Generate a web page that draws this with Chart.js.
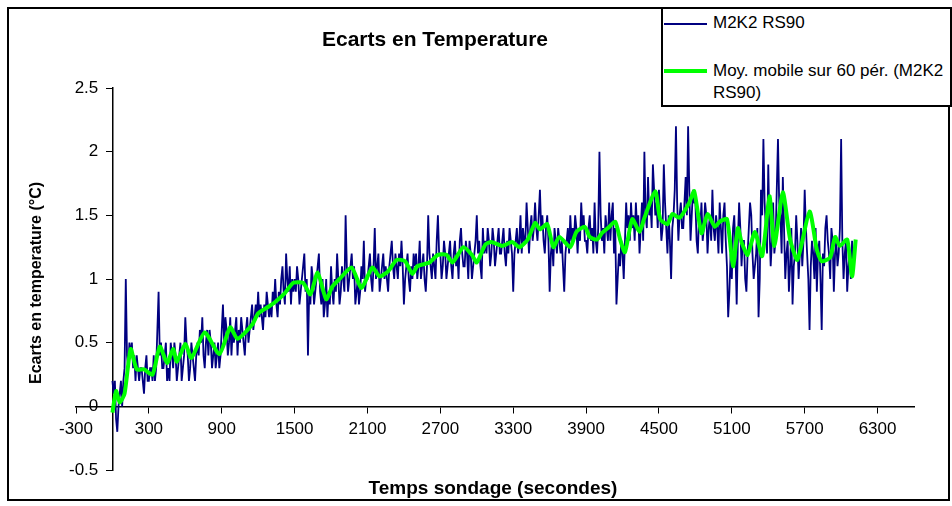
<!DOCTYPE html>
<html>
<head>
<meta charset="utf-8">
<title>Ecarts en Temperature</title>
<script src="https://cdn.jsdelivr.net/npm/chart.js@4.4.1/dist/chart.umd.min.js"></script>
<style>
  body { margin: 0; background: #fff; }
  #wrap { position: relative; width: 952px; height: 506px; font-family: Arial, "Liberation Sans", sans-serif; color: #000; }
  #frame { position: absolute; left: 7px; top: 7px; width: 939px; height: 490px; border: 2px solid #000; }
  canvas { position: absolute; left: 0; top: 0; }
  .lbl { position: absolute; white-space: nowrap; font-weight: bold; transform: translate(-50%, -50%); }
  #legend { position: absolute; left: 661px; top: 7px; width: 287px; height: 96px; border: 2px solid #000; background: #fff; font-size: 17px; }
  #legend .sw { position: absolute; left: 1px; width: 43px; }
  #legend .tx { position: absolute; left: 50px; width: 236px; line-height: 22px; }
</style>
</head>
<body>
<div id="wrap">
  <div id="frame"></div>
  <canvas id="chart" width="952" height="506"></canvas>
  <div class="lbl" style="left:435px; top:39px; font-size:21px;">Ecarts en Temperature</div>
  <div class="lbl" style="left:36px; top:283px; font-size:16px; transform: translate(-50%, -50%) rotate(-90deg);">Ecarts en temperature (°C)</div>
  <div class="lbl" style="left:493px; top:488px; font-size:19px;">Temps sondage (secondes)</div>
  <div id="legend">
    <div class="sw" style="top:14px; height:1.5px; background:#000080;"></div>
    <div class="tx" style="top:3px;">M2K2 RS90</div>
    <div class="sw" style="top:60px; height:4px; background:#00ff00;"></div>
    <div class="tx" style="top:51px;">Moy. mobile sur 60 pér. (M2K2 RS90)</div>
  </div>
</div>
<script>
"use strict";

// sampling times of the raw series (s)
const RAW_T = [
  0, 10, 20, 30, 40, 50, 60, 70, 80, 90,
  100, 110, 120, 130, 140, 150, 160, 170, 180, 190,
  200, 210, 220, 230, 240, 250, 260, 270, 280, 290,
  300, 310, 320, 330, 340, 350, 360, 370, 380, 390,
  400, 410, 420, 430, 440, 450, 460, 470, 480, 490,
  500, 510, 520, 530, 540, 550, 560, 570, 580, 590,
  600, 610, 620, 630, 640, 650, 660, 670, 680, 690,
  700, 710, 720, 730, 740, 750, 760, 770, 780, 790,
  800, 810, 820, 830, 840, 850, 860, 870, 880, 890,
  900, 910, 920, 930, 940, 950, 960, 970, 980, 990,
  1000, 1010, 1020, 1030, 1040, 1050, 1060, 1070, 1080, 1090,
  1100, 1110, 1120, 1130, 1140, 1150, 1160, 1170, 1180, 1190,
  1200, 1210, 1220, 1230, 1240, 1250, 1260, 1270, 1280, 1290,
  1300, 1310, 1320, 1330, 1340, 1350, 1360, 1370, 1380, 1390,
  1400, 1410, 1420, 1430, 1440, 1450, 1460, 1470, 1480, 1490,
  1500, 1510, 1520, 1530, 1540, 1550, 1560, 1570, 1580, 1590,
  1600, 1610, 1620, 1630, 1640, 1650, 1660, 1670, 1680, 1690,
  1700, 1710, 1720, 1730, 1740, 1750, 1760, 1770, 1780, 1790,
  1800, 1810, 1820, 1830, 1840, 1850, 1860, 1870, 1880, 1890,
  1900, 1910, 1920, 1930, 1940, 1950, 1960, 1970, 1980, 1990,
  2000, 2010, 2020, 2030, 2040, 2050, 2060, 2070, 2080, 2090,
  2100, 2110, 2120, 2130, 2140, 2150, 2160, 2170, 2180, 2190,
  2200, 2210, 2220, 2230, 2240, 2250, 2260, 2270, 2280, 2290,
  2300, 2310, 2320, 2330, 2340, 2350, 2360, 2370, 2380, 2390,
  2400, 2410, 2420, 2430, 2440, 2450, 2460, 2470, 2480, 2490,
  2500, 2510, 2520, 2530, 2540, 2550, 2560, 2570, 2580, 2590,
  2600, 2610, 2620, 2630, 2640, 2650, 2660, 2670, 2680, 2690,
  2700, 2710, 2720, 2730, 2740, 2750, 2760, 2770, 2780, 2790,
  2800, 2810, 2820, 2830, 2840, 2850, 2860, 2870, 2880, 2890,
  2900, 2910, 2920, 2930, 2940, 2950, 2960, 2970, 2980, 2990,
  3000, 3010, 3020, 3030, 3040, 3050, 3060, 3070, 3080, 3090,
  3100, 3110, 3120, 3130, 3140, 3150, 3160, 3170, 3180, 3190,
  3200, 3210, 3220, 3230, 3240, 3250, 3260, 3270, 3280, 3290,
  3300, 3310, 3320, 3330, 3340, 3350, 3360, 3370, 3380, 3390,
  3400, 3410, 3420, 3430, 3440, 3450, 3460, 3470, 3480, 3490,
  3500, 3510, 3520, 3530, 3540, 3550, 3560, 3570, 3580, 3590,
  3600, 3610, 3620, 3630, 3640, 3650, 3660, 3670, 3680, 3690,
  3700, 3710, 3720, 3730, 3740, 3750, 3760, 3770, 3780, 3790,
  3800, 3810, 3820, 3830, 3840, 3850, 3860, 3870, 3880, 3890,
  3900, 3910, 3920, 3930, 3940, 3950, 3960, 3970, 3980, 3990,
  4000, 4010, 4020, 4030, 4040, 4050, 4060, 4070, 4080, 4090,
  4100, 4110, 4120, 4130, 4140, 4150, 4160, 4170, 4180, 4190,
  4200, 4210, 4220, 4230, 4240, 4250, 4260, 4270, 4280, 4290,
  4300, 4310, 4320, 4330, 4340, 4350, 4360, 4370, 4380, 4390,
  4400, 4410, 4420, 4430, 4440, 4450, 4460, 4470, 4480, 4490,
  4500, 4510, 4520, 4530, 4540, 4550, 4560, 4570, 4580, 4590,
  4600, 4610, 4620, 4630, 4640, 4650, 4660, 4670, 4680, 4690,
  4700, 4710, 4720, 4730, 4740, 4750, 4760, 4770, 4780, 4790,
  4800, 4810, 4820, 4830, 4840, 4850, 4860, 4870, 4880, 4890,
  4900, 4910, 4920, 4930, 4940, 4950, 4960, 4970, 4980, 4990,
  5000, 5010, 5020, 5030, 5040, 5050, 5060, 5070, 5080, 5090,
  5100, 5110, 5120, 5130, 5140, 5150, 5160, 5170, 5180, 5190,
  5200, 5210, 5220, 5230, 5240, 5250, 5260, 5270, 5280, 5290,
  5300, 5310, 5320, 5330, 5340, 5350, 5360, 5370, 5380, 5390,
  5400, 5410, 5420, 5430, 5440, 5450, 5460, 5470, 5480, 5490,
  5500, 5510, 5520, 5530, 5540, 5550, 5560, 5570, 5580, 5590,
  5600, 5610, 5620, 5630, 5640, 5650, 5660, 5670, 5680, 5690,
  5700, 5710, 5720, 5730, 5740, 5750, 5760, 5770, 5780, 5790,
  5800, 5810, 5820, 5830, 5840, 5850, 5860, 5870, 5880, 5890,
  5900, 5910, 5920, 5930, 5940, 5950, 5960, 5970, 5980, 5990,
  6000, 6010, 6020, 6030, 6040, 6050, 6060, 6070, 6080, 6090,
  6100,
];

// M2K2 RS90 (°C), one row per 100 s
const RAW_V = [
  0.2, 0.1, 0.2, -0.1, -0.2, 0.0, 0.1, 0.2, 0.0, 0.2,
  0.3, 1.0, 0.4, 0.3, 0.5, 0.4, 0.5, 0.3, 0.4, 0.2,
  0.4, 0.3, 0.2, 0.3, 0.3, 0.2, 0.1, 0.3, 0.4, 0.2,
  0.2, 0.3, 0.3, 0.2, 0.4, 0.2, 0.3, 0.6, 0.9, 0.4,
  0.5, 0.3, 0.3, 0.4, 0.5, 0.2, 0.3, 0.2, 0.5, 0.4,
  0.3, 0.5, 0.4, 0.2, 0.3, 0.4, 0.5, 0.2, 0.3, 0.4,
  0.7, 0.5, 0.4, 0.2, 0.3, 0.5, 0.4, 0.3, 0.2, 0.4,
  0.5, 0.4, 0.6, 0.5, 0.7, 0.4, 0.3, 0.5, 0.6, 0.4,
  0.6, 0.5, 0.3, 0.4, 0.5, 0.3, 0.4, 0.5, 0.3, 0.4,
  0.6, 0.8, 0.5, 0.7, 0.6, 0.4, 0.5, 0.7, 0.4, 0.6,
  0.5, 0.6, 0.7, 0.4, 0.6, 0.5, 0.7, 0.6, 0.5, 0.4,
  0.6, 0.7, 0.5, 0.6, 0.7, 0.8, 0.6, 0.7, 0.8, 0.7,
  0.9, 0.7, 0.8, 0.7, 0.6, 0.8, 0.7, 0.9, 0.8, 0.7,
  0.8, 0.7, 0.9, 0.8, 1.0, 0.8, 0.7, 0.9, 0.8, 1.0,
  1.1, 0.9, 0.8, 1.2, 1.0, 0.9, 1.1, 0.8, 1.0, 0.9,
  1.0, 0.9, 1.1, 1.0, 0.8, 0.9, 1.0, 1.1, 1.2, 0.9,
  1.0, 0.4, 0.9, 0.8, 1.1, 1.0, 0.8, 0.9, 1.0, 1.1,
  1.2, 0.9, 0.8, 1.0, 0.7, 0.8, 1.0, 0.7, 0.9, 0.8,
  1.1, 0.9, 0.8, 1.0, 0.9, 1.2, 1.0, 0.8, 0.9, 1.1,
  1.0, 0.9, 1.5, 1.1, 0.9, 1.0, 1.1, 1.2, 1.0, 1.1,
  0.8, 0.9, 1.0, 0.8, 0.9, 1.1, 1.0, 1.3, 0.9, 1.0,
  1.0, 1.1, 1.2, 1.0, 0.9, 1.1, 1.4, 1.0, 1.1, 1.2,
  0.9, 1.0, 1.1, 1.2, 1.0, 1.1, 1.0, 0.9, 1.1, 1.2,
  1.3, 1.1, 1.0, 1.2, 1.1, 1.0, 1.2, 1.1, 1.3, 1.1,
  0.8, 1.0, 1.1, 1.2, 1.0, 0.9, 1.1, 1.0, 1.2, 1.1,
  1.2, 1.0, 1.1, 1.3, 1.0, 1.1, 1.2, 1.0, 0.9, 1.1,
  1.5, 1.2, 1.1, 1.0, 1.2, 1.1, 1.0, 1.3, 1.5, 1.2,
  1.2, 1.0, 1.1, 1.3, 1.2, 1.0, 1.1, 1.2, 1.3, 1.1,
  1.0, 1.2, 1.3, 1.1, 1.2, 1.0, 1.3, 1.4, 1.2, 1.1,
  1.1, 1.3, 1.2, 1.0, 1.3, 1.2, 1.0, 1.1, 1.2, 1.3,
  1.5, 1.2, 1.3, 1.1, 1.0, 1.4, 1.2, 1.3, 1.2, 1.4,
  1.3, 1.1, 1.2, 1.4, 1.3, 1.1, 1.2, 1.3, 1.4, 1.2,
  1.2, 1.3, 1.4, 1.2, 1.1, 1.3, 1.2, 1.4, 1.3, 1.2,
  0.9, 1.2, 1.3, 1.4, 1.2, 1.3, 1.5, 1.2, 1.4, 1.3,
  1.3, 1.6, 1.4, 1.2, 1.4, 1.5, 1.3, 1.4, 1.6, 1.4,
  1.3, 1.5, 1.7, 1.4, 1.5, 1.3, 1.2, 1.4, 1.5, 1.3,
  0.9, 1.2, 1.3, 1.1, 1.4, 1.3, 1.2, 1.4, 1.3, 1.2,
  1.3, 1.1, 0.9, 1.2, 1.3, 1.4, 1.2, 1.5, 1.3, 1.4,
  1.3, 1.5, 1.4, 1.2, 1.4, 1.3, 1.6, 1.4, 1.5, 1.3,
  1.3, 1.2, 1.4, 1.5, 1.3, 1.4, 1.2, 1.6, 1.3, 1.2,
  1.4, 2.0, 1.5, 1.3, 1.4, 1.2, 1.5, 1.4, 1.3, 1.6,
  1.3, 1.5, 1.6, 1.2, 1.4, 0.8, 1.0, 1.2, 1.1, 1.3,
  1.2, 1.0, 1.3, 1.6, 1.4, 1.5, 1.3, 1.6, 1.4, 1.5,
  1.3, 1.6, 1.4, 1.5, 1.2, 1.4, 1.6, 1.3, 2.0, 1.5,
  1.4, 1.8, 1.5, 1.6, 1.4, 1.9, 1.7, 1.5, 1.6, 1.4,
  1.7, 1.5, 1.3, 1.4, 1.9, 1.6, 1.4, 1.2, 1.5, 1.3,
  1.0, 1.4, 1.5, 1.7, 2.2, 1.6, 1.3, 1.5, 1.6, 1.4,
  1.4, 1.6, 1.8, 1.5, 2.2, 1.7, 1.3, 1.5, 1.7, 1.6,
  1.6, 1.3, 1.2, 1.5, 1.4, 1.6, 1.3, 1.4, 1.6, 1.5,
  1.2, 1.4, 1.5, 1.3, 1.7, 1.4, 1.3, 1.5, 1.4, 1.2,
  1.6, 1.4, 1.2, 1.5, 1.6, 1.3, 1.1, 0.7, 0.9, 1.2,
  1.0, 1.4, 1.5, 1.2, 0.8, 1.3, 1.6, 1.4, 1.1, 1.3,
  1.3, 1.0, 0.9, 1.2, 1.4, 1.6, 1.5, 1.2, 1.0, 1.1,
  1.2, 1.4, 0.7, 1.0, 1.7, 1.5, 2.1, 1.6, 1.4, 1.2,
  1.9, 1.4, 1.1, 1.3, 1.6, 1.2, 1.3, 1.7, 2.1, 1.6,
  1.5, 1.2, 1.8, 1.4, 1.0, 1.2, 1.3, 0.9, 1.1, 1.4,
  0.8, 1.1, 1.2, 1.5, 1.3, 1.0, 1.2, 1.4, 1.1, 1.3,
  1.7, 1.4, 1.2, 1.0, 0.6, 1.1, 1.3, 1.2, 1.0, 1.4,
  0.9, 1.2, 1.3, 1.0, 0.6, 1.2, 1.1, 1.4, 1.5, 1.3,
  1.2, 1.0, 1.4, 1.3, 0.9, 1.2, 1.3, 1.1, 1.2, 1.4,
  2.1, 1.3, 1.0, 1.2, 1.3, 0.9, 1.1, 1.2, 1.0, 1.3,
  1.1,
];

// moving average over 60 periods
const AVG_T = [
  0, 30, 60, 100, 150, 200, 260, 330, 390, 450,
  500, 530, 600, 650, 760, 880, 970, 1030, 1150, 1200,
  1280, 1340, 1420, 1490, 1570, 1630, 1690, 1760, 1810, 1870,
  1970, 2050, 2140, 2200, 2270, 2340, 2410, 2470, 2510, 2610,
  2680, 2750, 2800, 2890, 2960, 3000, 3070, 3120, 3210, 3290,
  3350, 3420, 3480, 3520, 3580, 3630, 3680, 3770, 3820, 3890,
  3930, 3990, 4030, 4080, 4140, 4180, 4220, 4280, 4340, 4380,
  4470, 4510, 4570, 4610, 4670, 4750, 4790, 4850, 4900, 4960,
  5000, 5060, 5110, 5150, 5180, 5230, 5290, 5350, 5410, 5450,
  5520, 5580, 5640, 5740, 5800, 5840, 5910, 5950, 5990, 6050,
  6090, 6120,
];
const AVG_V = [
  -0.05, 0.12, 0.03, 0.10, 0.45, 0.29, 0.29, 0.25, 0.47, 0.34,
  0.45, 0.35, 0.49, 0.38, 0.58, 0.41, 0.62, 0.53, 0.64, 0.73,
  0.78, 0.82, 0.89, 0.97, 0.97, 0.88, 1.05, 0.84, 0.94, 1.00,
  1.09, 0.93, 1.09, 1.02, 1.06, 1.15, 1.14, 1.04, 1.10, 1.13,
  1.19, 1.19, 1.13, 1.25, 1.19, 1.13, 1.27, 1.29, 1.26, 1.29,
  1.25, 1.31, 1.44, 1.39, 1.43, 1.25, 1.33, 1.25, 1.37, 1.41,
  1.33, 1.31, 1.36, 1.40, 1.45, 1.31, 1.21, 1.47, 1.37, 1.48,
  1.69, 1.47, 1.43, 1.51, 1.48, 1.60, 1.69, 1.36, 1.51, 1.41,
  1.45, 1.47, 1.10, 1.40, 1.29, 1.19, 1.37, 1.18, 1.65, 1.26,
  1.68, 1.31, 1.15, 1.53, 1.23, 1.14, 1.17, 1.33, 1.26, 1.31,
  1.02, 1.31,
];

const X_TICKS = [-300, 300, 900, 1500, 2100, 2700, 3300, 3900, 4500, 5100, 5700, 6300];
const Y_TICKS = [-0.5, 0, 0.5, 1, 1.5, 2, 2.5];

const TICK_FONT = { family: "Arial, 'Liberation Sans', sans-serif", size: 17 };

function setTicks(list) {
  return axis => { axis.ticks = list.map(v => ({ value: v })); };
}

new Chart(document.getElementById("chart"), {
  type: "line",
  data: {
    datasets: [
      {
        label: "M2K2 RS90",
        data: RAW_T.map((t, i) => ({ x: t, y: RAW_V[i] })),
        borderColor: "#000080",
        borderWidth: 1.8,
        pointRadius: 0,
        tension: 0,
        yAxisID: "y",
        order: 2,
      },
      {
        label: "Moy. mobile sur 60 pér. (M2K2 RS90)",
        data: AVG_T.map((t, i) => ({ x: t, y: AVG_V[i] })),
        borderColor: "#00ff00",
        borderWidth: 4,
        pointRadius: 0,
        tension: 0.2,
        yAxisID: "y",
        order: 1,
      },
    ],
  },
  options: {
    responsive: false,
    animation: false,
    layout: { padding: { left: 76, right: 38, top: 88, bottom: 36 } },
    plugins: {
      legend: { display: false },
      title: { display: false },
      tooltip: { enabled: false },
    },
    scales: {
      x: {
        type: "linear",
        min: -300,
        max: 6600,
        position: { y: 0 },
        afterBuildTicks: setTicks(X_TICKS),
        afterFit: s => { s.height = 0; },
        grid: { drawOnChartArea: false, drawTicks: true, tickLength: 6, color: "#000", lineWidth: 1 },
        border: { display: true, color: "#000", width: 1.5 },
        ticks: {
          color: "#000", font: TICK_FONT, padding: 7, maxRotation: 0, autoSkip: false,
          callback: v => String(v),
        },
      },
      // labels of the value axis, drawn just left of the zero line
      y: {
        type: "linear",
        min: -0.5,
        max: 2.5,
        position: "left",
        afterBuildTicks: setTicks(Y_TICKS),
        afterFit: s => { s.width = 0; },
        grid: { display: false, drawTicks: false },
        border: { display: false },
        ticks: {
          color: "#000", font: TICK_FONT, mirror: true, crossAlign: "far", padding: -7,
          callback: v => String(v),
        },
      },
      // the value axis line itself, crossing at x = 0
      yLine: {
        axis: "y",
        type: "linear",
        min: -0.5,
        max: 2.5,
        position: { x: 0 },
        afterBuildTicks: setTicks(Y_TICKS),
        afterFit: s => { s.width = 0; },
        grid: { drawOnChartArea: false, drawTicks: true, tickLength: 6, color: "#000", lineWidth: 1 },
        border: { display: true, color: "#000", width: 1.5 },
        ticks: { display: false },
      },
    },
  },
});
</script>
</body>
</html>
